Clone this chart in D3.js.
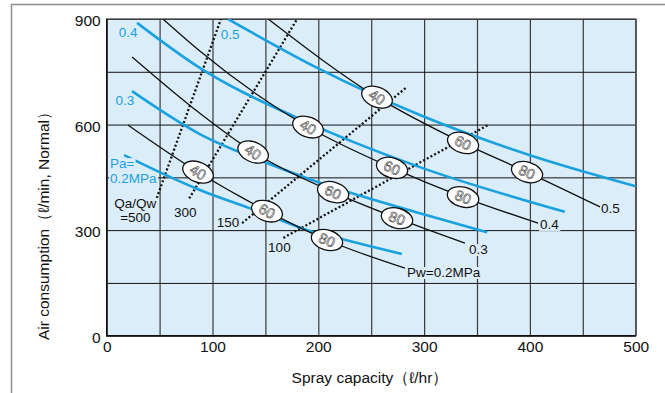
<!DOCTYPE html>
<html>
<head>
<meta charset="utf-8">
<script src="https://cdn.jsdelivr.net/npm/d3@7"></script>
<style>
body { margin: 0; background: #fff; }
text { font-family: "Liberation Sans", Arial, sans-serif; }
</style>
</head>
<body>
<div id="chart"></div>
<script>
// spray capacity (l/hr) vs air consumption (l/min, Normal)
const xGrid = [0, 50, 100, 150, 200, 250, 300, 350, 400, 450, 500];
const yGrid = [0, 150, 300, 450, 600, 750, 900];
const xLabels = [0, 100, 200, 300, 400, 500];
const yLabels = [0, 300, 600, 900];

// blue curves: air pressure Pa (MPa)
const paNames = ["Pa=0.2MPa", "0.3", "0.4", "0.5"];
const pa02 = [[16.4, 513], [88, 414], [140, 357], [195, 295], [223, 274], [279, 232]];
const pa03 = [[23.9, 695], [88, 573], [152, 490], [200, 436], [296, 348], [359.6, 294]];
const pa04 = [[28.7, 889], [88, 761], [180, 619], [296, 479], [433, 352]];
const pa05 = [[114.7, 900], [199, 761], [296, 627], [400, 513], [500, 425]];

// black curves: water pressure Pw (MPa)
const pwNames = ["Pw=0.2MPa", "0.3", "0.4", "0.5"];
const pw02 = [[20, 599], [86.3, 465], [151.5, 354], [208.2, 272], [282, 192]];
const pw03 = [[24, 792], [88, 632], [138.4, 522], [214, 408], [274.4, 334], [338.6, 263]];
const pw04 = [[53.2, 900], [88, 809], [190.3, 593], [269.7, 477], [336.8, 394], [407.7, 320]];
const pw05 = [[152.6, 900], [255.5, 678], [336.8, 548], [397.3, 465], [466.3, 366]];

// oval markers on the Pw curves
const markText = ["40", "60", "80"];
const markX = [
  [86.3, 151.5, 208.2],
  [138.4, 214, 274.4],
  [190.3, 269.7, 336.8],
  [255.5, 336.8, 397.3]
];

// dotted lines: Qa/Qw ratio, from [x,y] to [x,y]
const ratioNames = ["500", "300", "150", "100"];
const ratioLines = [
  [[46, 380], [108, 900]],
  [[78, 390], [180, 900]],
  [[128, 320], [283, 705]],
  [[167, 278], [360, 598]]
];

const W = 665, H = 393;
const x = d3.scaleLinear().domain([0, 500]).range([106.7, 635.7]);
const y = d3.scaleLinear().domain([0, 900]).range([335.7, 19]);
const plotW = x(500) - x(0), plotH = y(0) - y(900);

const svg = d3.select("#chart").append("svg")
  .attr("width", W).attr("height", H);

// outer frame (top and left)
svg.append("path")
  .attr("d", "M11.5," + H + "V4.5H" + W)
  .attr("fill", "none").attr("stroke", "#8c8c8c").attr("stroke-width", 1.5);

svg.append("clipPath").attr("id", "clip")
  .append("rect").attr("x", x(0)).attr("y", y(900)).attr("width", plotW).attr("height", plotH);

svg.append("rect")
  .attr("x", x(0)).attr("y", y(900)).attr("width", plotW).attr("height", plotH)
  .attr("fill", "#dcedfa");

// grid via axes
const gx = svg.append("g")
  .attr("transform", "translate(0," + y(0) + ")")
  .call(d3.axisBottom(x).tickValues(xGrid).tickSize(-plotH).tickPadding(5)
    .tickFormat(d => xLabels.includes(d) ? d : ""));
gx.select(".domain").remove();
gx.selectAll("line").attr("stroke", "#3a3a3a").attr("stroke-width", 1.2);
gx.selectAll("text").attr("font-size", 15.5).attr("fill", "#111");

const gy = svg.append("g")
  .attr("transform", "translate(" + x(0) + ",0)")
  .call(d3.axisLeft(y).tickValues(yGrid).tickSize(-plotW).tickPadding(6)
    .tickFormat(d => yLabels.includes(d) ? d : ""));
gy.select(".domain").remove();
gy.selectAll("line").attr("stroke", "#111").attr("stroke-width", 1);
gy.selectAll("text").attr("font-size", 15.5).attr("fill", "#111").attr("dy", "0.42em");

// border
svg.append("rect")
  .attr("x", x(0)).attr("y", y(900)).attr("width", plotW).attr("height", plotH)
  .attr("fill", "none").attr("stroke", "#555").attr("stroke-width", 1.4);
svg.append("path")
  .attr("d", "M" + x(0) + "," + y(900) + "V" + y(0) + "H" + x(500))
  .attr("fill", "none").attr("stroke", "#111").attr("stroke-width", 1.4);

const plot = svg.append("g").attr("clip-path", "url(#clip)");
const line = d3.line().x(d => x(d[0])).y(d => y(d[1])).curve(d3.curveMonotoneX);

// dotted Qa/Qw lines
plot.selectAll(".ratio").data(ratioLines).join("path")
  .attr("d", d => d3.line().x(p => x(p[0])).y(p => y(p[1]))(d))
  .attr("fill", "none").attr("stroke", "#111").attr("stroke-width", 2.3)
  .attr("stroke-dasharray", "2,2.2");

// blue Pa curves
const paData = [pa02, pa03, pa04, pa05];
plot.selectAll(".pa").data(paData).join("path")
  .attr("d", line).attr("fill", "none")
  .attr("stroke", "#1aa1e0").attr("stroke-width", 2.6);

// black Pw curves
const pwData = [pw02, pw03, pw04, pw05];
const pwPaths = plot.selectAll(".pw").data(pwData).join("path")
  .attr("d", line).attr("fill", "none")
  .attr("stroke", "#111").attr("stroke-width", 1.3);

function pointAtX(node, px) {
  const L = node.getTotalLength();
  let lo = 0, hi = L;
  for (let i = 0; i < 30; i++) {
    const mid = (lo + hi) / 2;
    if (node.getPointAtLength(mid).x < px) lo = mid; else hi = mid;
  }
  const p = node.getPointAtLength(lo);
  const a = node.getPointAtLength(Math.max(0, lo - 12));
  const b = node.getPointAtLength(Math.min(L, lo + 12));
  return { x: p.x, y: p.y, a: Math.atan2(b.y - a.y, b.x - a.x) * 180 / Math.PI };
}

// ovals
pwPaths.each(function(d, i) {
  const node = this;
  markX[i].forEach((mx, j) => {
    const p = pointAtX(node, x(mx));
    const g = svg.append("g").attr("transform", "translate(" + p.x + "," + p.y + ")");
    g.append("ellipse").attr("rx", 16).attr("ry", 10)
      .attr("transform", "rotate(" + (p.a * 0.7) + ")")
      .attr("fill", "#fff").attr("stroke", "#111").attr("stroke-width", 1.3);
    g.append("text").text(markText[j])
      .attr("transform", "rotate(" + p.a + ")")
      .attr("text-anchor", "middle").attr("dy", "0.36em")
      .attr("font-size", 14.5).attr("fill", "#fff").attr("stroke", "#333").attr("stroke-width", 0.55);
  });
});

function label(tx, ty, str, color, anchor) {
  const t = svg.append("text").attr("x", tx).attr("y", ty)
    .attr("text-anchor", anchor || "start").attr("dy", "0.36em")
    .attr("font-size", 13.5).attr("fill", color).text(str);
  const bb = t.node().getBBox();
  svg.insert("rect", () => t.node())
    .attr("x", bb.x - 1).attr("y", bb.y + 2).attr("width", bb.width + 2).attr("height", bb.height - 3)
    .attr("fill", "#dcedfa");
  return t;
}

// Pa labels near curve starts
const blue = "#1aa1e0";
label(x(pa02[0][0]) - 14, y(pa02[0][1]) + 8, "Pa=", blue);
label(x(pa02[0][0]) - 14, y(pa02[0][1]) + 23, "0.2MPa", blue);
label(x(pa03[0][0]) - 7, y(pa03[0][1]) + 9, paNames[1], blue, "middle");
label(x(pa04[0][0]) - 9, y(pa04[0][1]) + 9, paNames[2], blue, "middle");
label(x(pa05[0][0]) + 2, y(pa05[0][1]) + 15, paNames[3], blue, "middle");

// Pw labels at curve ends
const pwOff = [[2, 4], [4, 6], [2, 1], [1, 1]];
pwData.forEach((c, i) => {
  const e = c[c.length - 1];
  label(x(e[0]) + pwOff[i][0], y(e[1]) + pwOff[i][1], pwNames[i], "#111");
});

// Qa/Qw labels near dotted starts
const r0 = ratioLines.map(l => l[0]);
label(x(r0[0][0]) - 20, y(r0[0][1]) + 1, "Qa/Qw", "#111", "middle");
label(x(r0[0][0]) - 20, y(r0[0][1]) + 15, "=" + ratioNames[0], "#111", "middle");
label(x(r0[1][0]) - 4, y(r0[1][1]) + 14, ratioNames[1], "#111", "middle");
label(x(r0[2][0]) - 14, y(r0[2][1]) - 1, ratioNames[2], "#111", "middle");
label(x(r0[3][0]) - 4, y(r0[3][1]) + 9, ratioNames[3], "#111", "middle");

// axis titles
svg.append("text")
  .attr("transform", "translate(49,340) rotate(-90)")
  .attr("text-anchor", "start").attr("font-size", 15.5).attr("fill", "#111")
  .text("Air consumption（ℓ/min, Normal）");
svg.append("text")
  .attr("x", 370).attr("y", 383)
  .attr("text-anchor", "middle").attr("font-size", 15.5).attr("fill", "#111")
  .text("Spray capacity（ℓ/hr）");
</script>
</body>
</html>
